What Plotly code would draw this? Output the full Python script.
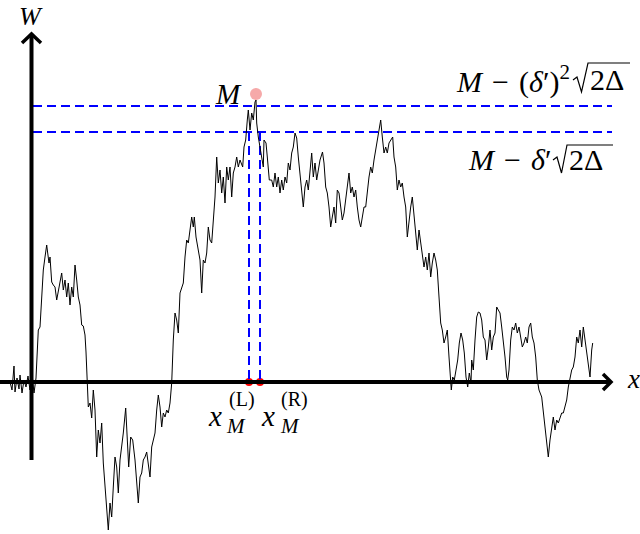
import plotly.graph_objects as go

# Brownian path W(x) (x, W)
path_points = [
    (10, 0), (12, -8), (14, 16), (15, -10), (17, 4), (19, -7), (20, 7), (22, -11), (24, 2), (26, -5),
    (28, 6), (30, -8), (32, 8), (34, -11), (36, 4), (36.7, 19), (38.3, 52), (40, 55), (41.7, 85),
    (43.3, 112), (45, 125), (46.7, 137), (47.7, 129), (49, 119), (50, 125), (51.7, 100), (53.3, 97),
    (55, 95), (56.7, 82), (58.3, 92), (60, 102), (61.7, 109), (63.3, 92), (65, 102), (66.7, 85),
    (68.3, 99), (70, 77), (71.7, 95), (73.3, 85), (75, 117), (76.7, 102), (78.3, 85), (80, 77),
    (81.7, 57), (83.3, 56), (85, 47), (86, 30), (87, 0), (88.3, -25),
    (90, -21), (91.7, -36), (93.3, -8), (95, -28), (96.7, -75), (98.3, -48), (100, -61), (101.7, -41),
    (103.3, -81), (105, -105), (106.7, -121), (108.3, -148), (110, -121), (111.7, -135), (113.3, -105),
    (115, -75), (116.7, -85), (118.3, -111), (120, -78), (121.7, -65), (123.3, -51), (125.7, -26),
    (127.3, -58), (128.7, -85), (130.7, -55), (132.7, -58), (135, -78), (136.7, -98), (138.3, -121),
    (140, -95), (141.7, -91), (143.3, -78), (145, -75), (146.7, -70), (148.3, -81), (150, -95),
    (151.7, -65), (153.3, -58), (155, -51), (156.7, -28), (158.3, -13), (160, -25), (161.7, -45),
    (163.3, -31), (165, -35), (166.7, -28), (168.3, -31), (170, -21),
    (171.7, -1), (173.3, 42), (175, 69), (176.7, 62), (178.3, 49), (180, 89), (181.7, 95), (183.3, 99),
    (185, 125), (186.7, 142), (188.3, 139), (190, 155), (191.7, 165), (193.3, 155), (194.3, 165),
    (196, 145), (198.3, 132), (200, 122), (201.7, 89), (203.3, 122), (205, 119), (206.7, 129),
    (208.3, 155), (210, 142), (211.7, 139), (213.3, 162), (215, 185), (216.7, 225), (218.3, 199),
    (220, 212), (221.7, 189), (223.3, 205), (225, 179), (226.7, 215), (228.3, 202), (230, 215),
    (231.7, 185), (233.3, 209), (235, 215), (236.7, 225), (238.3, 215),
    (240, 222), (242.7, 215), (244, 235), (245.7, 242), (247.3, 262), (248.3, 272), (250, 252),
    (251.7, 269), (253.3, 262), (255, 280), (256, 282), (256.7, 259), (258.3, 245), (260, 235),
    (261.7, 222), (263.3, 215), (264, 242), (266, 239), (267.3, 225), (269.3, 202), (271.7, 202),
    (273.3, 195), (275, 209), (276.7, 195), (278.3, 205), (280, 189), (281.7, 202), (283.3, 192),
    (285, 205), (286.7, 199), (288.3, 219), (290, 212), (291.7, 229), (293.3, 235), (295, 249),
    (296.7, 244), (298.3, 225), (300, 205), (301.7, 189), (303.3, 175), (305, 195), (306.7, 202),
    (308.3, 192), (310, 215), (311.7, 229), (313.3, 205), (315, 219), (316.7, 202), (318.3, 212),
    (320, 222), (322.5, 230),
    (324, 219), (325.7, 195), (327.3, 189), (329, 175), (330.7, 155), (332.3, 165), (334, 175),
    (335.7, 159), (337.3, 192), (339, 189), (340.7, 175), (342.3, 162), (344, 169), (345.7, 185),
    (347.3, 195), (349, 209), (350.7, 189), (352.3, 195), (354, 185), (355.7, 192), (357.3, 175),
    (359, 162), (360.7, 155), (362.3, 165), (364, 175), (365.7, 175), (367.3, 192), (369, 205),
    (370.7, 215), (372.3, 209), (374, 222), (375.7, 232), (377.3, 239), (379, 252), (380.7, 262),
    (382.3, 245), (384, 229), (385.7, 235), (387.3, 229), (389, 239),
    (390.7, 242), (392.7, 245), (394, 225), (395.7, 215), (397.3, 192), (399, 202), (400.7, 195),
    (402.3, 199), (404, 185), (405.7, 175), (407.3, 145), (409, 162), (410.7, 175), (412.3, 185),
    (414, 165), (415.7, 142), (417.3, 132), (419, 152), (420.7, 139), (422.3, 125), (424, 115),
    (425.7, 125), (427.3, 112), (429, 129), (430.7, 105), (432.3, 119), (434, 129), (435.7, 122),
    (437.3, 112), (439, 85), (440.7, 59), (442.3, 52), (444, 39), (445.7, 45), (447.3, 52), (449, 25),
    (450.7, 2), (451.3, -8), (452.7, 5), (454.3, 2), (456, 12), (457.7, 22), (459.3, 39), (461, 49),
    (462.7, 42), (464.3, 29), (466, 5), (467.7, -5), (469.3, 9), (471, -1),
    (471.7, 22), (473.3, 12), (475, 42), (476.7, 65), (478.3, 70), (480, 69), (481.7, 62), (483.3, 45),
    (485, 42), (486.7, 22), (488.3, 35), (490, 52), (491.7, 32), (493.3, 45), (495, 49), (496.7, 75),
    (498.3, 72), (500, 69), (501.7, 55), (503.3, 42), (505, 25), (506.7, 5), (507.7, 2), (509, 12),
    (510.7, 42), (512.3, 55), (514, 52), (515.7, 59), (517.3, 49), (519, 55), (520.7, 45), (522.3, 35),
    (524, 39), (525.7, 45), (527.3, 39), (529, 55), (530.7, 59), (532.3, 45), (534, 39), (535.7, 25),
    (537.3, 2), (539, -8),
    (541.7, -15), (543.3, -31), (545, -41), (546.7, -65), (548.3, -75), (550, -58), (551.7, -45),
    (553.3, -35), (555, -48), (556.7, -38), (558.3, -41), (560, -35), (561.7, -31), (563.3, -31),
    (565, -25), (566.7, -18), (568.3, -5), (570, 2), (571.7, 12), (573.3, 15), (575, 25), (576.7, 45),
    (578.3, 39), (580, 52), (581.7, 35), (583.3, 55), (585, 42), (586.7, 25), (588.3, 15), (590, 5),
    (591.7, 32), (592.7, 39),
]
path_x = [p[0] for p in path_points]
path_w = [p[1] for p in path_points]

# Maximum point M and the two threshold levels
peak_x = [256]
peak_w = [288]
level_values = [276, 250]          # M-(δ')²√2Δ , M-δ'√2Δ
crossing_x = [249, 260]            # x_M^(L), x_M^(R)

FONT = "Liberation Serif"
BLUE = "#0000ff"
DASH = "9px,5px"
XMIN_D, XMAX_D = 33, 612
SP = "\u2004"

fig = go.Figure()

# horizontal dashed levels
for lv in level_values:
    fig.add_trace(go.Scatter(x=[XMIN_D, XMAX_D], y=[lv, lv], mode="lines",
                             line=dict(color=BLUE, width=2, dash=DASH), hoverinfo="skip"))

# red crossing points on axis
fig.add_trace(go.Scatter(x=crossing_x, y=[0] * len(crossing_x), mode="markers",
                         marker=dict(color="red", size=8), hoverinfo="skip"))

# vertical dashed lines from lower level down to axis
for cx in crossing_x:
    fig.add_trace(go.Scatter(x=[cx, cx], y=[level_values[1], 0], mode="lines",
                             line=dict(color=BLUE, width=2, dash=DASH), hoverinfo="skip"))

# the path
fig.add_trace(go.Scatter(x=path_x, y=path_w, mode="lines",
                         line=dict(color="black", width=1), hoverinfo="skip"))

# maximum marker
fig.add_trace(go.Scatter(x=peak_x, y=peak_w, mode="markers",
                         marker=dict(color="#f6a9a9", size=12), hoverinfo="skip"))

shapes = []
AX = dict(color="black", width=4)
# x axis
shapes.append(dict(type="line", x0=0, x1=610, y0=0, y1=0, xref="x", yref="y", line=AX))
shapes.append(dict(type="path", path="M 603,8 L 611,0 L 603,-8", xref="x", yref="y",
                   line=dict(color="black", width=3.5)))
# W axis
shapes.append(dict(type="line", x0=31.5, x1=31.5, y0=-78, y1=347, xref="x", yref="y", line=AX))
shapes.append(dict(type="path", path="M 22,339 L 31.5,348 L 41,339", xref="x", yref="y",
                   line=dict(color="black", width=3.5)))
# radicals
shapes.append(dict(type="path", path="M 573,302 L 577,305 L 581.5,290 L 588,319 L 630,319",
                   xref="x", yref="y", line=dict(color="black", width=1.2)))
shapes.append(dict(type="path", path="M 553,222 L 557,225 L 561.5,209 L 567,237 L 613,237",
                   xref="x", yref="y", line=dict(color="black", width=1.2)))

ann = []
def t(text, x, y, size=29, xanchor="center", yanchor="middle"):
    ann.append(dict(text=text, x=x, y=y, xref="x", yref="y", showarrow=False,
                    xanchor=xanchor, yanchor=yanchor,
                    font=dict(family=FONT, size=size, color="black")))

t("<i>W</i>", 31, 382, size=26, yanchor="top")
t("<i>x</i>", 633, 3, size=27)
t("<i>M</i>", 228, 288)
t("<i>M</i>" + SP + "−" + SP + "(<i>δ</i>′)<sup>2</sup>", 572, 303, size=30, xanchor="right")
t("2Δ", 588, 303, size=30, xanchor="left")
t("<i>M</i>" + SP + "−" + SP + "<i>δ</i>′", 553, 223, size=30, xanchor="right")
t("2Δ", 567, 223, size=30, xanchor="left")
# x_M^(L), x_M^(R)
t("<i>x</i>", 215, -34)
t("(L)", 242, -17, size=20)
t("<i>M</i>", 236, -44, size=21)
t("<i>x</i>", 268, -34)
t("(R)", 294, -17, size=20)
t("<i>M</i>", 290, -44, size=21)

fig.update_layout(
    width=640, height=534, margin=dict(l=0, r=0, t=0, b=0),
    paper_bgcolor="white", plot_bgcolor="white", showlegend=False,
    xaxis=dict(range=[0, 640], visible=False, fixedrange=True),
    yaxis=dict(range=[-152, 382], visible=False, fixedrange=True),
    shapes=shapes, annotations=ann,
)

fig.write_html("out.html", config={"displayModeBar": False},
               post_script="document.body.style.margin='0';")
